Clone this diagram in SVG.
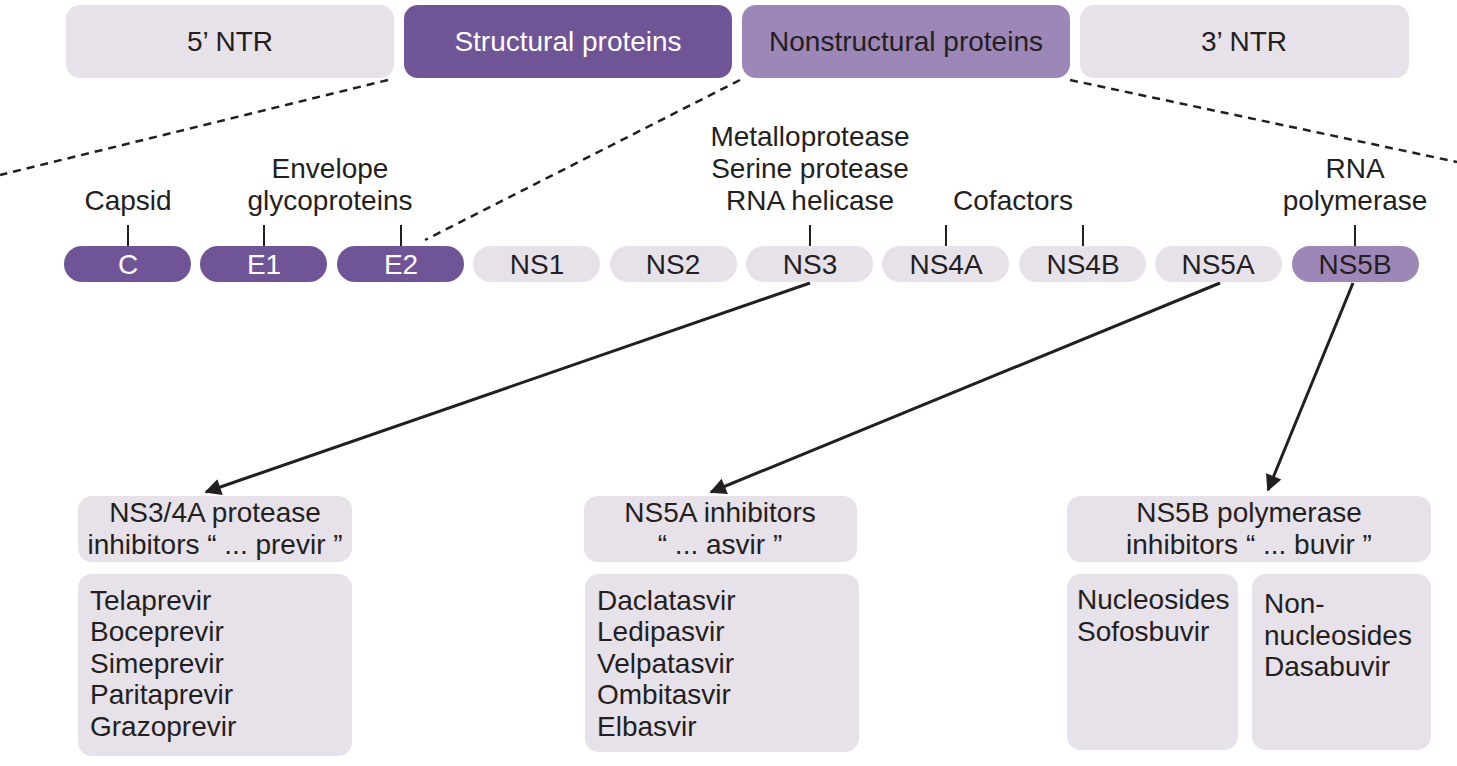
<svg xmlns="http://www.w3.org/2000/svg" width="1457" height="766" viewBox="0 0 1457 766">
<style>
text{font-family:"Liberation Sans",Arial,sans-serif;font-size:28px;fill:#231f20}
.c{text-anchor:middle}
.w{fill:#ffffff}
.light{fill:#e7e1ea}
.dark{fill:#6f5496}
.mid{fill:#9d87b8}
.tick{stroke:#231f20;stroke-width:2}
.dash{stroke:#231f20;stroke-width:2.5;stroke-dasharray:8 6;fill:none}
.arr{stroke:#231f20;stroke-width:3;fill:none;marker-end:url(#ah)}
</style>
<defs>
<marker id="ah" viewBox="0 0 10 10" refX="9" refY="5" markerWidth="6.5" markerHeight="5.5" markerUnits="strokeWidth" orient="auto">
<path d="M0,0 L10,5 L0,10 Z" fill="#231f20"/>
</marker>
</defs>
<rect width="1457" height="766" fill="#ffffff"/>
<g id="connectors">
<line class="dash" x1="388" y1="80" x2="0" y2="175"/>
<line class="dash" x1="740" y1="80" x2="425" y2="240"/>
<line class="dash" x1="1070" y1="80" x2="1457" y2="162"/>
<line class="tick" x1="128" y1="225" x2="128" y2="246"/>
<line class="tick" x1="264" y1="225" x2="264" y2="246"/>
<line class="tick" x1="401" y1="225" x2="401" y2="246"/>
<line class="tick" x1="810" y1="225" x2="810" y2="246"/>
<line class="tick" x1="946" y1="225" x2="946" y2="246"/>
<line class="tick" x1="1083" y1="225" x2="1083" y2="246"/>
<line class="tick" x1="1355" y1="225" x2="1355" y2="246"/>
<line class="arr" x1="810" y1="283" x2="206" y2="492"/>
<line class="arr" x1="1220" y1="283" x2="711" y2="492"/>
<line class="arr" x1="1353" y1="283" x2="1268" y2="490"/>
</g>
<g id="top-5ntr"><rect class="light" x="66" y="5" width="328" height="73" rx="14"/><text class="c" x="230" y="51">5’ NTR</text></g>
<g id="top-structural"><rect class="dark" x="404" y="5" width="328" height="73" rx="14"/><text class="c w" x="568" y="51">Structural proteins</text></g>
<g id="top-nonstructural"><rect class="mid" x="742" y="5" width="328" height="73" rx="14"/><text class="c" x="906" y="51">Nonstructural proteins</text></g>
<g id="top-3ntr"><rect class="light" x="1080" y="5" width="329" height="73" rx="14"/><text class="c" x="1244" y="51">3’ NTR</text></g>
<g id="label-capsid"><text class="c" x="128" y="210">Capsid</text></g>
<g id="label-envelope"><text class="c" x="330" y="178">Envelope</text><text class="c" x="330" y="210">glycoproteins</text></g>
<g id="label-ns3"><text class="c" x="810" y="146">Metalloprotease</text><text class="c" x="810" y="178">Serine protease</text><text class="c" x="810" y="210">RNA helicase</text></g>
<g id="label-cofactors"><text class="c" x="1013" y="210">Cofactors</text></g>
<g id="label-polymerase"><text class="c" x="1355" y="178">RNA</text><text class="c" x="1355" y="210">polymerase</text></g>
<g id="p-C"><rect class="dark" x="64" y="246" width="127" height="36" rx="18"/><text class="c w" x="128" y="274">C</text></g>
<g id="p-E1"><rect class="dark" x="200" y="246" width="127" height="36" rx="18"/><text class="c w" x="264" y="274">E1</text></g>
<g id="p-E2"><rect class="dark" x="337" y="246" width="127" height="36" rx="18"/><text class="c w" x="401" y="274">E2</text></g>
<g id="p-NS1"><rect class="light" x="473" y="246" width="127" height="36" rx="18"/><text class="c" x="537" y="274">NS1</text></g>
<g id="p-NS2"><rect class="light" x="610" y="246" width="127" height="36" rx="18"/><text class="c" x="673" y="274">NS2</text></g>
<g id="p-NS3"><rect class="light" x="746" y="246" width="127" height="36" rx="18"/><text class="c" x="810" y="274">NS3</text></g>
<g id="p-NS4A"><rect class="light" x="882" y="246" width="127" height="36" rx="18"/><text class="c" x="946" y="274">NS4A</text></g>
<g id="p-NS4B"><rect class="light" x="1019" y="246" width="127" height="36" rx="18"/><text class="c" x="1083" y="274">NS4B</text></g>
<g id="p-NS5A"><rect class="light" x="1155" y="246" width="127" height="36" rx="18"/><text class="c" x="1218" y="274">NS5A</text></g>
<g id="p-NS5B"><rect class="mid" x="1292" y="246" width="127" height="36" rx="18"/><text class="c" x="1355" y="274">NS5B</text></g>
<g id="ns34a-head"><rect class="light" x="78" y="496" width="274" height="66" rx="14"/><text class="c" x="215" y="522">NS3/4A protease</text><text class="c" x="215" y="554">inhibitors “ ... previr ”</text></g>
<g id="ns34a-list"><rect class="light" x="78" y="574" width="274" height="182" rx="14"/>
<text x="90" y="610">Telaprevir</text><text x="90" y="641">Boceprevir</text><text x="90" y="673">Simeprevir</text><text x="90" y="704">Paritaprevir</text><text x="90" y="736">Grazoprevir</text></g>
<g id="ns5a-head"><rect class="light" x="584" y="496" width="273" height="66" rx="14"/><text class="c" x="720" y="522">NS5A inhibitors</text><text class="c" x="720" y="554">“ ... asvir ”</text></g>
<g id="ns5a-list"><rect class="light" x="585" y="574" width="274" height="178" rx="14"/>
<text x="597" y="610">Daclatasvir</text><text x="597" y="641">Ledipasvir</text><text x="597" y="673">Velpatasvir</text><text x="597" y="704">Ombitasvir</text><text x="597" y="736">Elbasvir</text></g>
<g id="ns5b-head"><rect class="light" x="1067" y="496" width="364" height="66" rx="14"/><text class="c" x="1249" y="522">NS5B polymerase</text><text class="c" x="1249" y="554">inhibitors “ ... buvir ”</text></g>
<g id="ns5b-nuc"><rect class="light" x="1067" y="574" width="171" height="176" rx="14"/><text x="1077" y="609">Nucleosides</text><text x="1077" y="641">Sofosbuvir</text></g>
<g id="ns5b-nonnuc"><rect class="light" x="1252" y="574" width="179" height="176" rx="14"/><text x="1264" y="613">Non-</text><text x="1264" y="645">nucleosides</text><text x="1264" y="676">Dasabuvir</text></g>
</svg>
